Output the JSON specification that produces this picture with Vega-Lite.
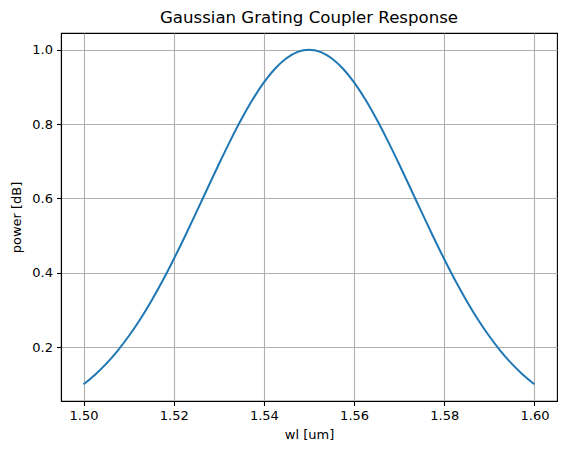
{
  "$schema": "https://vega.github.io/schema/vega-lite/v6.json",
  "autosize": {"type": "none"},
  "padding": {"left": 61, "top": 33, "right": 10, "bottom": 54},
  "width": 496,
  "height": 368,
  "background": "white",
  "title": {"text": "Gaussian Grating Coupler Response", "font": "DejaVu Sans", "fontSize": 16.6, "fontWeight": "normal", "color": "black", "offset": 6, "anchor": "middle"},
  "config": {
    "view": {"stroke": "black", "strokeWidth": 1.1},
    "axis": {
      "labelFont": "DejaVu Sans", "labelFontSize": 13, "labelColor": "black",
      "titleFont": "DejaVu Sans", "titleFontSize": 13, "titleFontWeight": "normal", "titleColor": "black",
      "domainColor": "black", "domainWidth": 1.1,
      "tickColor": "black", "tickSize": 4.5, "tickWidth": 1.1,
      "gridColor": "#b0b0b0", "gridWidth": 1.1, "gridOpacity": 1,
      "labelPadding": 4
    }
  },
  "data": {"values": [
    {"wl": 1.500, "power": 0.1000},
    {"wl": 1.5025, "power": 0.1252},
    {"wl": 1.505, "power": 0.1549},
    {"wl": 1.5075, "power": 0.1894},
    {"wl": 1.510, "power": 0.2291},
    {"wl": 1.5125, "power": 0.2738},
    {"wl": 1.515, "power": 0.3236},
    {"wl": 1.5175, "power": 0.3779},
    {"wl": 1.520, "power": 0.4365},
    {"wl": 1.5225, "power": 0.4983},
    {"wl": 1.525, "power": 0.5623},
    {"wl": 1.5275, "power": 0.6273},
    {"wl": 1.530, "power": 0.6918},
    {"wl": 1.5325, "power": 0.7542},
    {"wl": 1.535, "power": 0.8128},
    {"wl": 1.5375, "power": 0.8660},
    {"wl": 1.540, "power": 0.9120},
    {"wl": 1.5425, "power": 0.9495},
    {"wl": 1.545, "power": 0.9772},
    {"wl": 1.5475, "power": 0.9943},
    {"wl": 1.550, "power": 1.0000},
    {"wl": 1.5525, "power": 0.9943},
    {"wl": 1.555, "power": 0.9772},
    {"wl": 1.5575, "power": 0.9495},
    {"wl": 1.560, "power": 0.9120},
    {"wl": 1.5625, "power": 0.8660},
    {"wl": 1.565, "power": 0.8128},
    {"wl": 1.5675, "power": 0.7542},
    {"wl": 1.570, "power": 0.6918},
    {"wl": 1.5725, "power": 0.6273},
    {"wl": 1.575, "power": 0.5623},
    {"wl": 1.5775, "power": 0.4983},
    {"wl": 1.580, "power": 0.4365},
    {"wl": 1.5825, "power": 0.3779},
    {"wl": 1.585, "power": 0.3236},
    {"wl": 1.5875, "power": 0.2738},
    {"wl": 1.590, "power": 0.2291},
    {"wl": 1.5925, "power": 0.1894},
    {"wl": 1.595, "power": 0.1549},
    {"wl": 1.5975, "power": 0.1252},
    {"wl": 1.600, "power": 0.1000}
  ]},
  "mark": {"type": "line", "color": "#1f77b4", "strokeWidth": 2, "interpolate": "monotone"},
  "encoding": {
    "x": {"field": "wl", "type": "quantitative", "title": "wl [um]",
      "scale": {"domain": [1.495, 1.605], "nice": false, "zero": false},
      "axis": {"values": [1.50, 1.52, 1.54, 1.56, 1.58, 1.60], "format": ".2f", "titlePadding": 6}},
    "y": {"field": "power", "type": "quantitative", "title": "power [dB]",
      "scale": {"domain": [0.055, 1.045], "nice": false, "zero": false},
      "axis": {"values": [0.2, 0.4, 0.6, 0.8, 1.0], "format": ".1f", "titlePadding": 8}}
  }
}
